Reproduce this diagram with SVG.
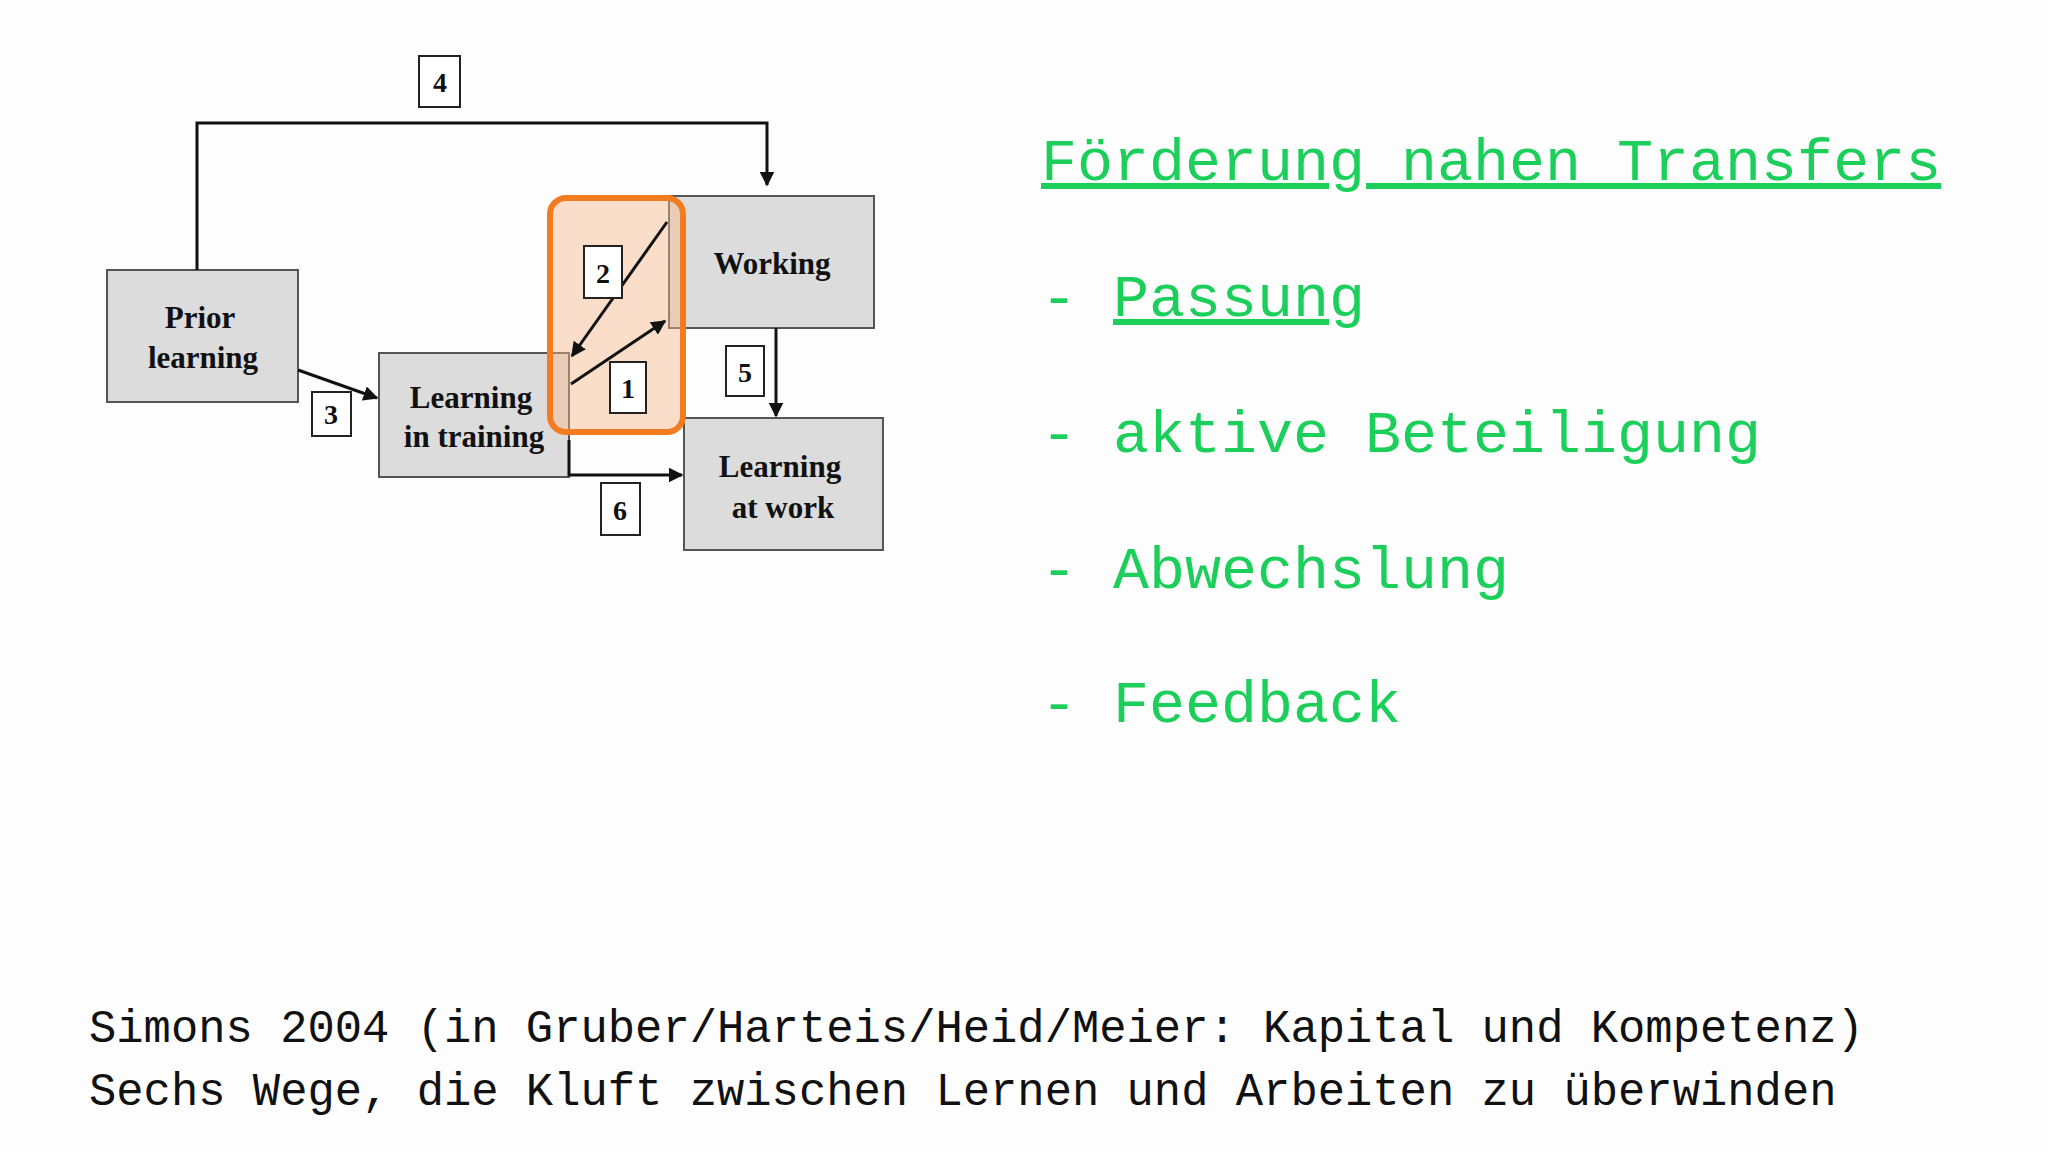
<svg xmlns="http://www.w3.org/2000/svg" width="2048" height="1152" viewBox="0 0 2048 1152">
<defs>
<marker id="ah" viewBox="0 0 10 10" refX="9" refY="5" markerWidth="5" markerHeight="5" orient="auto-start-reverse"><path d="M0,0 L10,5 L0,10 z" fill="#111"/></marker>
<style>
.box{fill:#dcdcdc;stroke:#555;stroke-width:2}
.lab{fill:#fff;stroke:#222;stroke-width:2}
.t{font-family:"Liberation Serif",serif;font-weight:bold;font-size:31px;fill:#111;text-anchor:middle}
.n{font-family:"Liberation Serif",serif;font-weight:bold;font-size:28px;fill:#111;text-anchor:middle}
.ln{fill:none;stroke:#111;stroke-width:3}
.g{font-family:"Liberation Mono",monospace;font-size:60px;fill:#1ccf5a}
.b{font-family:"Liberation Mono",monospace;font-size:45.5px;fill:#111}
</style>
</defs>
<rect width="2048" height="1152" fill="#fdfdfd"/>
<g id="prior"><rect class="box" x="107" y="270" width="191" height="132"/><text class="t" x="200" y="328">Prior</text><text class="t" x="203" y="368">learning</text></g>
<g id="training"><rect class="box" x="379" y="353" width="190" height="124"/><text class="t" x="471" y="408">Learning</text><text class="t" x="474" y="447">in training</text></g>
<g id="working"><rect class="box" x="669" y="196" width="205" height="132"/><text class="t" x="772" y="274">Working</text></g>
<g id="atwork"><rect class="box" x="684" y="418" width="199" height="132"/><text class="t" x="780" y="477">Learning</text><text class="t" x="783" y="518">at work</text></g>
<g id="highlight"><rect x="550" y="198" width="133" height="234" rx="16" fill="#f7b98a" fill-opacity="0.45" stroke="#f47c20" stroke-width="6"/></g>
<g id="connectors">
<polyline class="ln" points="197,270 197,123 767,123 767,185" marker-end="url(#ah)"/>
<line class="ln" x1="298" y1="370" x2="377" y2="398" marker-end="url(#ah)"/>
<line class="ln" x1="667" y1="222" x2="572" y2="356" marker-end="url(#ah)"/>
<line class="ln" x1="571" y1="384" x2="665" y2="321" marker-end="url(#ah)"/>
<line class="ln" x1="776" y1="328" x2="776" y2="416" marker-end="url(#ah)"/>
<polyline class="ln" points="569,440 569,475 682,475" marker-end="url(#ah)"/>
</g>
<g id="labels">
<rect class="lab" x="419" y="56" width="41" height="51"/><text class="n" x="440" y="92">4</text>
<rect class="lab" x="584" y="246" width="38" height="52"/><text class="n" x="603" y="283">2</text>
<rect class="lab" x="610" y="362" width="36" height="51"/><text class="n" x="628" y="398">1</text>
<rect class="lab" x="312" y="392" width="39" height="44"/><text class="n" x="331" y="424">3</text>
<rect class="lab" x="726" y="346" width="38" height="50"/><text class="n" x="745" y="382">5</text>
<rect class="lab" x="601" y="483" width="39" height="52"/><text class="n" x="620" y="520">6</text>
</g>
<g id="text">
<text class="g" x="1041" y="180" text-decoration="underline">Förderung nahen Transfers</text>
<text class="g" x="1041" y="316">- <tspan text-decoration="underline">Passung</tspan></text>
<text class="g" x="1041" y="452">- aktive Beteiligung</text>
<text class="g" x="1041" y="588">- Abwechslung</text>
<text class="g" x="1041" y="722">- Feedback</text>
<text class="b" x="89" y="1042">Simons 2004 (in Gruber/Harteis/Heid/Meier: Kapital und Kompetenz)</text>
<text class="b" x="89" y="1105">Sechs Wege, die Kluft zwischen Lernen und Arbeiten zu überwinden</text>
</g>
</svg>
